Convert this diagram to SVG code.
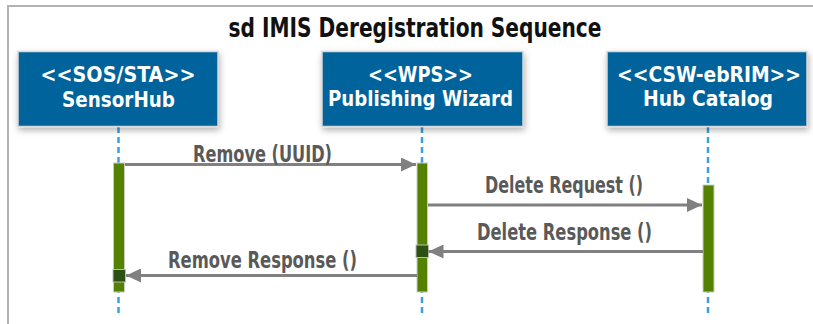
<svg xmlns="http://www.w3.org/2000/svg" width="813" height="324" viewBox="0 0 813 324">
  <defs>
    <style>
      .frame { fill: none; stroke: #b3b3b3; stroke-width: 2; }
      .title { font-family: "Liberation Sans Narrow", "DejaVu Sans Condensed", "Liberation Sans", sans-serif; font-size: 27px; font-weight: bold; fill: #111; text-anchor: middle; }
      .box { fill: #03639b; stroke: #d9d9d9; stroke-width: 1.5; }
      .boxtext { font-family: "Liberation Sans Narrow", "DejaVu Sans Condensed", "Liberation Sans", sans-serif; font-size: 22px; font-weight: bold; fill: #ffffff; text-anchor: middle; }
      .lifeline { stroke: #3c9fe2; stroke-width: 2.5; stroke-dasharray: 6 4; fill: none; }
      .activation { fill: #558100; stroke: #c9cfc0; stroke-width: 1; }
      .return-mark { fill: #2c5013; stroke: #b9bfb0; stroke-width: 1; }
      .msg { stroke: #808080; stroke-width: 2.8; fill: none; marker-end: url(#arrow); }
      .label { font-family: "Liberation Sans Narrow", "DejaVu Sans Condensed", "Liberation Sans", sans-serif; font-size: 23px; font-weight: bold; fill: #595959; text-anchor: middle; }
    </style>
    <marker id="arrow" viewBox="0 0 15 14" refX="15" refY="7" markerWidth="15" markerHeight="14" markerUnits="userSpaceOnUse" orient="auto">
      <path d="M0,0 L15,7 L0,14 Z" fill="#808080"/>
    </marker>
    <filter id="shadow" x="-10%" y="-20%" width="120%" height="150%">
      <feDropShadow dx="1" dy="3" stdDeviation="3" flood-color="#000" flood-opacity="0.3"/>
    </filter>
  </defs>

  <rect width="813" height="324" fill="#ffffff"/>

  <!-- sequence diagram frame (left and top edges) -->
  <path class="frame" d="M8,324 L8,6 L813,6"/>
  <text class="title" x="415" y="37" textLength="373" lengthAdjust="spacingAndGlyphs">sd IMIS Deregistration Sequence</text>

  <!-- lifelines -->
  <g id="lifelines">
    <line class="lifeline" x1="118.5" y1="127" x2="118.5" y2="314"/>
    <line class="lifeline" x1="422" y1="127" x2="422" y2="314"/>
    <line class="lifeline" x1="708" y1="127" x2="708" y2="314"/>
  </g>

  <g id="sensorhub">
    <rect class="box" x="18" y="51.5" width="200" height="75" filter="url(#shadow)"/>
    <text class="boxtext" x="118" y="82" textLength="155" lengthAdjust="spacingAndGlyphs">&lt;&lt;SOS/STA&gt;&gt;</text>
    <text class="boxtext" x="118.5" y="107" textLength="113" lengthAdjust="spacingAndGlyphs">SensorHub</text>
    <rect class="activation" x="113.5" y="163" width="11" height="129"/>
    <rect class="return-mark" x="113" y="269.5" width="12.5" height="12.5"/>
  </g>

  <g id="publishing-wizard">
    <rect class="box" x="322" y="51.5" width="201" height="75" filter="url(#shadow)"/>
    <text class="boxtext" x="420.5" y="82" textLength="105" lengthAdjust="spacingAndGlyphs">&lt;&lt;WPS&gt;&gt;</text>
    <text class="boxtext" x="420.5" y="106" textLength="185" lengthAdjust="spacingAndGlyphs">Publishing Wizard</text>
    <rect class="activation" x="417" y="163" width="10.5" height="129"/>
    <rect class="return-mark" x="416" y="245" width="12.5" height="12.5"/>
  </g>

  <g id="hub-catalog">
    <rect class="box" x="607" y="51.5" width="200" height="75" filter="url(#shadow)"/>
    <text class="boxtext" x="709" y="82" textLength="184" lengthAdjust="spacingAndGlyphs">&lt;&lt;CSW-ebRIM&gt;&gt;</text>
    <text class="boxtext" x="708" y="106" textLength="130" lengthAdjust="spacingAndGlyphs">Hub Catalog</text>
    <rect class="activation" x="703" y="185" width="11" height="107"/>
  </g>

  <!-- messages -->
  <g id="connectors">
    <line class="msg" x1="125" y1="164.5" x2="416" y2="164.5"/>
    <text class="label" x="262.5" y="162" textLength="139" lengthAdjust="spacingAndGlyphs">Remove (UUID)</text>

    <line class="msg" x1="428" y1="205" x2="702" y2="205"/>
    <text class="label" x="564" y="193" textLength="158" lengthAdjust="spacingAndGlyphs">Delete Request ()</text>

    <line class="msg" x1="703" y1="251.5" x2="428.5" y2="251.5"/>
    <text class="label" x="564.5" y="240" textLength="175" lengthAdjust="spacingAndGlyphs">Delete Response ()</text>

    <line class="msg" x1="417" y1="275.5" x2="126" y2="275.5"/>
    <text class="label" x="262.5" y="268" textLength="189" lengthAdjust="spacingAndGlyphs">Remove Response ()</text>
  </g>
</svg>
